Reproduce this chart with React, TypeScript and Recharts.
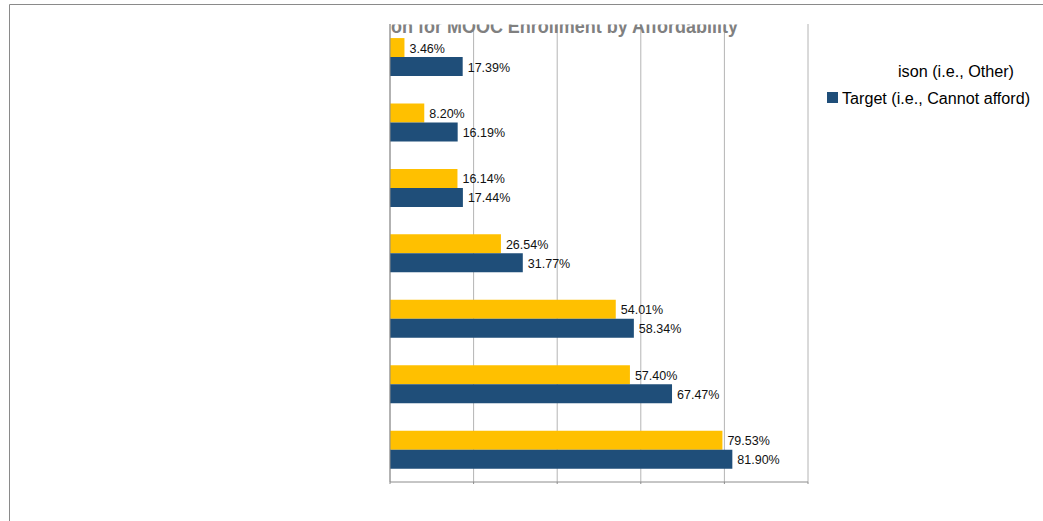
import React from 'react';
import { BarChart, Bar, XAxis, YAxis, CartesianGrid, LabelList } from 'recharts';

// category labels are cropped out of the source picture
const categories = ['Reason 1', 'Reason 2', 'Reason 3', 'Reason 4', 'Reason 5', 'Reason 6', 'Reason 7'];
const otherValues = [3.46, 8.2, 16.14, 26.54, 54.01, 57.4, 79.53];
const targetValues = [17.39, 16.19, 17.44, 31.77, 58.34, 67.47, 81.9];
const xTicks = [0, 20, 40, 60, 80, 100];

const SERIES = [
  { key: 'other', name: 'Comparison (i.e., Other)', visibleName: 'ison (i.e., Other)', color: '#FFC000' },
  { key: 'target', name: 'Target (i.e., Cannot afford)', visibleName: 'Target (i.e., Cannot afford)', color: '#1F4E79' },
];

const data = categories.map((c, i) => ({
  name: c,
  other: otherValues[i],
  target: targetValues[i],
}));

const renderLabel = (p: any) => {
  const x = Number(p.x) + Number(p.width) + 5;
  const y = Number(p.y) + Number(p.height) / 2 + 5;
  return (
    <text x={x} y={y} fontSize={12.5} fontFamily="Liberation Sans, Arial, sans-serif" fill="#111">
      {Number(p.value).toFixed(2)}%
    </text>
  );
};

export default function App() {
  return (
    <div style={{ position: 'absolute', left: 0, top: 0, width: 1043, height: 521, overflow: 'hidden', background: '#fff' }}>
      <div style={{ position: 'absolute', left: 0, top: 0 }}>
        <BarChart
          width={1043}
          height={521}
          data={data}
          layout="vertical"
          margin={{ top: 24, right: 235, bottom: 36, left: 389 }}
          barCategoryGap="21.5%"
          barGap={0}
        >
          <CartesianGrid horizontal={false} vertical={true} stroke="#b4b4b4" />
          <XAxis
            type="number"
            domain={[0, 100]}
            ticks={xTicks}
            height={3}
            tickSize={2}
            tickFormatter={() => ''}
            stroke="#8c8c8c"
          />
          <YAxis type="category" dataKey="name" width={1} tick={false} tickLine={false} stroke="#8c8c8c" />
          {SERIES.map((s) => (
            <Bar key={s.key} dataKey={s.key} name={s.name} fill={s.color} isAnimationActive={false}>
              <LabelList dataKey={s.key} content={renderLabel} />
            </Bar>
          ))}
        </BarChart>
      </div>
      <svg width={1043} height={521} style={{ position: 'absolute', left: 0, top: 0, pointerEvents: 'none' }}>
        <defs>
          <clipPath id="titleClip">
            <rect x={385} y={24.5} width={420} height={20} />
          </clipPath>
        </defs>
        {/* outer chart frame, only its top and left edges are in view */}
        <line x1={9.5} y1={4.5} x2={1043} y2={4.5} stroke="#8a8a8a" strokeWidth={1} />
        <line x1={9.5} y1={4.5} x2={9.5} y2={521} stroke="#8a8a8a" strokeWidth={1} />
        <text
          x={391}
          y={33}
          clipPath="url(#titleClip)"
          fontSize={20}
          fontWeight="bold"
          fontFamily="Liberation Sans, Arial, sans-serif"
          fill="#808080"
          textLength={347}
          lengthAdjust="spacingAndGlyphs"
        >
          on for MOOC Enrollment by Affordability
        </text>
        <text
          x={898}
          y={77}
          fontSize={16}
          fontFamily="Liberation Sans, Arial, sans-serif"
          fill="#000"
          textLength={116}
          lengthAdjust="spacingAndGlyphs"
        >
          {SERIES[0].visibleName}
        </text>
        <rect x={827} y={92} width={11} height={11} fill={SERIES[1].color} />
        <text
          x={842}
          y={103.5}
          fontSize={16}
          fontFamily="Liberation Sans, Arial, sans-serif"
          fill="#000"
          textLength={188}
          lengthAdjust="spacingAndGlyphs"
        >
          {SERIES[1].visibleName}
        </text>
      </svg>
    </div>
  );
}
